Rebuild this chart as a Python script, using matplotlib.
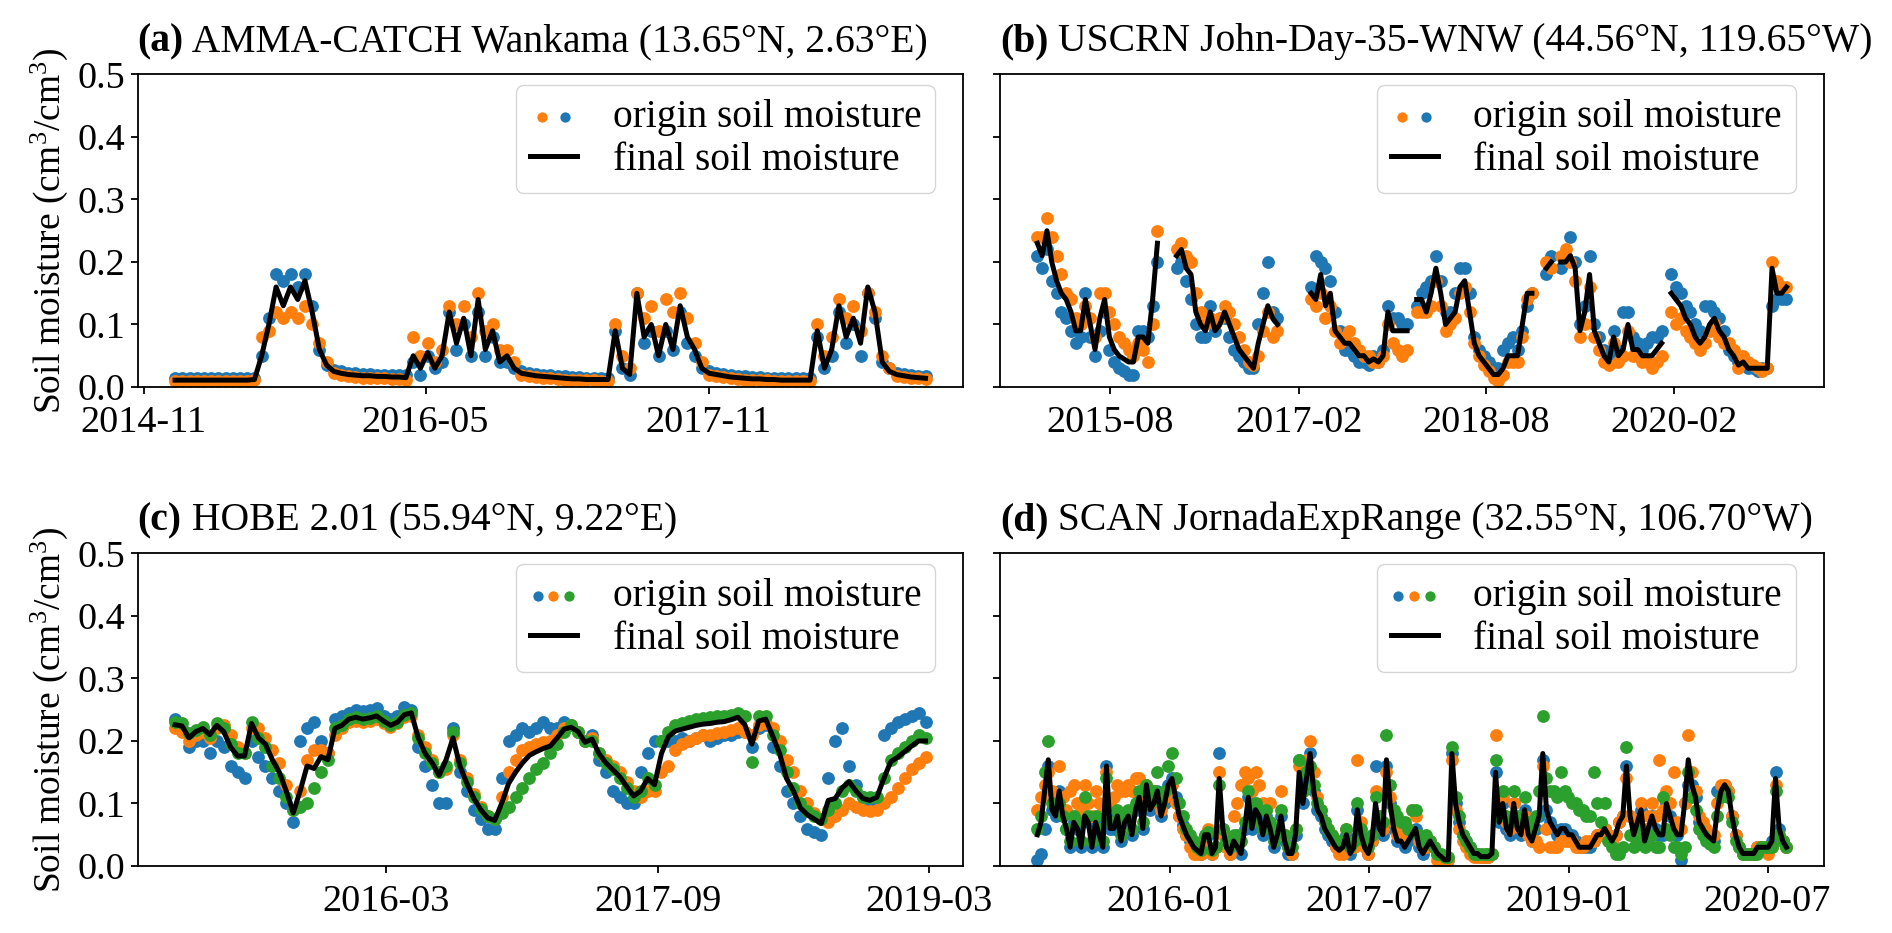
import numpy as np
import pandas as pd
import matplotlib
matplotlib.use('Agg')
import matplotlib.pyplot as plt
from matplotlib.legend_handler import HandlerTuple

nan = float('nan')

# ---------------- data (soil moisture in % volumetric, i.e. cm3/cm3 * 100) ----------------
# Panel (a): AMMA-CATCH Wankama, 14-day samples from 2015-01-01
a_start, a_step = '2015-01-01', 14
a_final = [1.1, 1.1, 1.1, 1.1, 1.1, 1.1, 1.1, 1.1, 1.1, 1.1, 1.1,
           1.2, 5, 10, 16, 13, 16, 14, 17, 12, 6, 3.5,
           2.5, 2.2, 2.0, 1.9, 1.8, 1.8, 1.7, 1.7, 1.6, 1.6,
           1.5, 5, 3, 5.5, 3, 5, 12, 7, 11, 5, 14, 6, 9, 4, 5, 3,
           2.2, 2.0, 1.8, 1.7, 1.6, 1.5, 1.4, 1.3, 1.3, 1.2, 1.2, 1.2, 1.2,
           9, 3, 2, 15, 8, 10, 5, 10, 6, 13, 8, 6, 3,
           2.2, 2.0, 1.8, 1.6, 1.5, 1.4, 1.3, 1.3, 1.2, 1.2, 1.1, 1.1, 1.1, 1.1, 1.1,
           9, 3, 6, 13, 8, 11, 7, 16, 12, 4, 2.5,
           2.0, 1.8, 1.6, 1.5, 1.4]
a_orange = [1.0, 1.0, 1.0, 1.0, 1.0, 1.0, 1.0, 1.0, 1.0, 1.0, 1.0,
            1.2, 8, 9, 12, 11, 12, 11, 13, 10, 7, 4,
            2.2, 1.9, 1.7, 1.6, 1.5, 1.5, 1.4, 1.4, 1.3, 1.3,
            1.2, 8, 5, 7, 4, 6, 13, 10, 13, 8, 15, 9, 10, 6, 6, 4,
            2.0, 1.8, 1.6, 1.5, 1.4, 1.3, 1.2, 1.2, 1.1, 1.1, 1.1, 1.0, 1.0,
            10, 5, 3, 15, 11, 13, 9, 14, 12, 15, 11, 7, 4,
            2.0, 1.8, 1.6, 1.4, 1.3, 1.2, 1.2, 1.1, 1.1, 1.0, 1.0, 1.0, 1.0, 1.0, 1.0,
            10, 5, 8, 14, 11, 13, 9, 15, 12, 5, 3,
            1.8, 1.6, 1.5, 1.4, 1.3]
a_blue = [1.4, 1.4, 1.4, 1.4, 1.4, 1.4, 1.4, 1.4, 1.4, 1.4, 1.4,
          1.4, 5, 11, 18, 17, 18, 16, 18, 13, 6, 3.5,
          2.7, 2.5, 2.3, 2.2, 2.1, 2.1, 2.0, 2.0, 1.9, 1.9,
          2.0, 4, 2, 5, 3, 4, 12, 6, 10, 5, 12, 5, 8, 4, 4, 3,
          2.5, 2.3, 2.1, 2.0, 1.9, 1.8, 1.7, 1.6, 1.6, 1.5, 1.5, 1.5, 1.5,
          9, 3, 2, 15, 7, 9, 5, 9, 6, 12, 7, 5, 3,
          2.5, 2.3, 2.1, 1.9, 1.8, 1.7, 1.6, 1.6, 1.5, 1.5, 1.4, 1.4, 1.4, 1.4, 1.4,
          8, 3, 5, 12, 7, 10, 5, 15, 11, 4, 3,
          2.3, 2.1, 1.9, 1.8, 1.7]

# Panel (b): USCRN John-Day-35-WNW, 14-day samples from 2015-01-01
b_start, b_step = '2015-01-01', 14
b_final = [23, 21, 25, 20, 17, 15, 14, 12, 9, 9, 14, 10, 6, 11, 14, 8, 6, 5, 4.5, 4, 4, 8, 8, 7, 14, 23,
           nan, nan, nan,
           21, 22, 19, 18, 12, 10, 9, 12, 9, 10, 12, 10, 8, 6, 5, 4, 3, 7, 10, 13, 11, 10,
           nan, nan, nan, nan, nan, nan,
           15, 14, 18, 13, 15, 9, 8, 7, 7, 6, 5, 5, 4, 4.5, 4, 5, 12, 9, 9, 9, 9,
           nan,
           14, 14, 12, 15, 19, 15, 10, 11, 12, 16, 17, 12, 7, 5, 4, 3, 2, 2, 3, 5, 5, 5, 10, 15, 15,
           nan, nan,
           19, 20,
           nan,
           20, 20, 21, 19, 9, 12, 18, 9, 7, 5, 4, 8, 5, 6, 10, 6, 6, 5, 5, 5, 6, 7,
           nan,
           15, 14, 13, 11, 10, 8, 7, 8, 10, 11, 9, 8, 6, 5, 3.5, 4, 3, 3, 3, 3, 3, 19, 15, 15, 16]
b_orange = [24, 24, 27, 24, 21, 18, 15, 14, 11, 10, 13, 11, 8, 15, 15, 12, 10, 8, 7, 6, 5, 7, 6, 4, 10, 25,
            nan, nan, nan,
            22, 23, 21, 20, 15, 12, 10, 11, 10, 11, 13, 12, 10, 8, 6, 4, 3.5, 5, 9, 12, 8, 9,
            nan, nan, nan, nan, nan, nan,
            14, 13, 15, 11, 13, 9, 7, 8, 9, 7, 6, 5, 5, 4, 4, 5, 10, 7, 6, 5, 6,
            nan,
            12, 12, 12, 13, 17, 13, 9, 10, 11, 15, 16, 12, 7, 5, 3.5, 2.5, 1.5, 1, 2, 4, 4, 4, 8, 14, 15,
            nan, nan,
            20, 19,
            nan,
            21, 22, 20, 17, 8, 10, 16, 8, 6, 4, 3.5, 7, 4, 5, 9, 5, 5, 4, 4, 3, 4, 5,
            nan,
            12, 10, 11, 9, 8, 7, 6, 7, 9, 10, 8, 7, 7, 6, 3, 5, 4, 3.5, 3, 2.5, 3, 20, 17, 16, 16]
b_blue = [21, 19, 22, 17, 15, 12, 11, 9, 7, 8, 15, 8, 5, 9, 12, 6, 4, 3, 2.5, 2, 2, 9, 9, 8, 13, 20,
          nan, nan, nan,
          19, 20, 17, 14, 10, 8, 8, 13, 9, 11, 11, 8, 6, 5, 4, 3, 3, 10, 15, 20, 12, 11,
          nan, nan, nan, nan, nan, nan,
          16, 21, 20, 19, 17, 12, 9, 6, 6, 5, 4, 4, 3.5, 5, 4, 6, 13, 11, 11, 10, 10,
          nan,
          13, 15, 16, 17, 21, 17, 12, 12, 15, 19, 19, 15, 8, 6, 5, 4, 3, 3, 6, 7, 8, 6, 9, 13, 15,
          nan, nan,
          18, 21,
          nan,
          19, 21, 24, 20, 10, 13, 21, 10, 8, 6, 5, 9, 6, 12, 12, 8, 7, 6, 7, 8, 8, 9,
          nan,
          18, 16, 15, 13, 12, 10, 9, 13, 13, 12, 11, 9, 6, 5, 4, 3.5, 3, 3, 2.5, 3, 3, 13, 14, 14, 14]

# Panel (c): HOBE 2.01, 14-day samples from 2015-01-01
c_start, c_step = '2015-01-01', 14
c_final = [22.6, 22.4, 20.5, 21.5, 22, 21, 22.5, 21.5, 19, 17.6,
           17.6, 22.8, 20.5, 19.5, 17, 15, 12, 8.5, 12, 16,
           15.6, 17.5, 17, 22, 22.5, 23.5, 23.8, 23.5, 23.7, 24,
           23.2, 22.5, 23, 24.2, 24.5, 20.5, 18, 16.5, 14.5, 17,
           20.5, 16, 13.2, 10.8, 9, 7.7, 7.3, 10, 13.2, 15,
           16.5, 17.7, 18.3, 18.8, 19.2, 20.5, 21.9, 22.2, 21.5, 19.8,
           20.3, 18, 16.5, 15.4, 14.3, 12.7, 11.2, 12, 14, 13,
           18, 20.7, 21.6, 21.9, 22.2, 22.5, 22.7, 22.8, 23, 23.1,
           23.4, 23.8, 22.6, 19.5, 23.2, 23.5, 20.8, 18, 14, 12,
           9.3, 8.2, 7.5, 6.8, 10.5, 10.8, 12.5, 13.5, 12, 10.8,
           10.5, 11, 14, 16.7, 17.4, 18.3, 19.2, 20, 20]
c_blue = [23.5, 22, 19, 20, 20, 18, 20, 19, 16, 15,
          14, 20, 17.5, 16, 14, 12, 10, 7, 20, 22,
          23, 20, 18, 23.5, 24, 24.5, 25, 24.8, 25, 25.2,
          24, 23.5, 24, 25.5, 25, 19, 16, 13, 10, 10,
          22, 15, 12, 9, 7.5, 6, 6, 14, 20, 21,
          22, 21.5, 22, 23, 22, 22, 23, 22.5, 21.5, 20,
          21, 17, 15, 12, 11, 10, 10, 15, 18, 20,
          20, 20, 20, 20.5, 20, 20.5, 21, 20, 20.5, 21,
          21, 21.5, 21.5, 19, 22, 22.5, 19, 16, 12, 10,
          8, 6, 5.5, 5, 14, 20, 22, 16, 13, 11,
          10, 10, 21, 22, 23, 23.5, 24, 24.5, 23]
c_orange = [22, 21.5, 20, 21, 21.5, 20.5, 22, 22.5, 21, 19,
            18, 22, 22, 20.5, 18.5, 16.5, 13, 9, 12, 17,
            18.5, 18.5, 18, 21, 22, 23, 23.2, 23, 23.2, 23.5,
            22.8, 22.2, 22.8, 23.8, 24, 21, 19, 17, 15, 15.5,
            21, 17, 14, 11.5, 9.5, 8, 7.5, 11, 15, 17,
            18.5, 19, 19.5, 19.8, 20, 21, 22, 22.5, 21.5, 20,
            20.5, 18, 17, 16, 15, 13.5, 12, 11, 12, 12,
            15, 16, 18.5, 19.5, 20, 20.5, 21, 21, 21.2, 21.5,
            21.8, 22, 21.5, 21, 22.5, 22.8, 22, 20, 17, 15,
            12, 10, 8.5, 7.5, 7, 8, 9, 10, 9.5, 9,
            8.8, 9, 10, 11, 12.5, 14, 15.5, 16.5, 17.5]
c_green = [23, 22.8, 21.2, 21.8, 22.2, 21, 22.8, 22, 19.5, 18,
           18, 23, 20.5, 19, 16, 14, 11, 9, 9.5, 10,
           12.5, 15, 17, 22, 22.5, 23.5, 23.8, 23.5, 23.7, 24,
           23.2, 22.5, 23, 24.2, 24.5, 20.5, 18, 16.5, 15, 16,
           21.5, 16.5, 13.5, 11, 9.2, 8, 7.5, 8.5, 9.5, 11,
           12.5, 14, 15.5, 16.5, 18, 19.5, 21.5, 22.5, 21.5, 20,
           20, 18, 16.5, 15.5, 14, 12.5, 11, 12, 14, 13,
           20, 21.5, 22.5, 22.8, 23.2, 23.5, 23.7, 23.8, 24, 24,
           24.2, 24.5, 24, 16.6, 24, 24, 21, 18.5, 15, 12.5,
           10, 8.8, 8, 7.5, 9, 10, 12, 13, 12, 11,
           11, 11, 14, 17, 18, 19, 20, 21, 20.5]

# Panel (d): SCAN JornadaExpRange, 10-day samples from 2015-01-01
d_start, d_step = '2015-01-01', 10
d_final = [5, 7, 12, 17, 9, 8, 12, 8, 6, 3,
           7, 6, 3, 8, 7, 3, 7, 5, 3, 16,
           6, 6, 8, 4, 7, 8, 5, 9, 11, 6,
           13, 9, 10, 12, 8, 10, 13, 14, 11, 8,
           6.5, 5, 4, 3, 2.5, 2, 5, 5, 2, 3,
           14, 6, 3, 2, 4, 3, 2, 6, 11, 6,
           9, 8, 5, 8, 6, 3, 5, 8, 4, 2,
           2, 5, 15, 10, 14, 18, 12, 9, 8, 6,
           5, 4, 3, 2.5, 3, 5, 2, 3, 9, 5,
           3, 2, 4, 10, 6, 5, 17, 10, 6, 4,
           4, 3, 4, 5, 6, 3, 2, 3, 4, 3,
           2, 1.5, 1, 1, 18, 10, 7, 5, 4, 3,
           2, 2, 1.5, 1.5, 1.5, 2, 15, 7, 10, 6,
           5, 10, 6, 5, 9, 5, 4, 6, 8, 18,
           9, 7, 6, 5, 6, 6, 5, 5, 4, 3,
           3, 3, 3, 4, 5, 5, 6, 5, 4, 5,
           7, 8, 16, 8, 5, 7, 9, 4, 6, 8,
           6, 5, 5, 10, 8, 6, 5, 5, 10, 17,
           13, 11, 7, 6, 5, 4.5, 4, 9, 12, 13,
           12, 8, 5, 3, 2, 2, 2, 2, 3, 3,
           3, 3, 4, 14, 6, 4, 3]
d_blue = [1, 2, 6, 16, 9, 8, 12, 8, 6, 3,
          7, 6, 3, 8, 7, 3, 7, 5, 3, 16,
          6, 6, 8, 4, 7, 8, 5, 9, 11, 6,
          13, 9, 10, 12, 8, 10, 13, 14, 11, 8,
          6.5, 5, 4, 3, 2.5, 2, 5, 5, 2, 3,
          18, 6, 3, 2, 4, 3, 2, 6, 11, 6,
          9, 8, 5, 8, 6, 3, 5, 8, 4, 2,
          2, 5, 17, 10, 14, 18, 12, 9, 8, 6,
          5, 4, 3, 2.5, 3, 5, 2, 3, 9, 5,
          3, 2, 4, 16, 6, 5, 16, 10, 6, 4,
          4, 3, 4, 5, 6, 3, 2, 3, 4, 3,
          2, 1.5, 1, 1, 18, 10, 7, 5, 4, 3,
          2, 2, 1.5, 1.5, 1.5, 2, 15, 7, 10, 6,
          5, 10, 6, 5, 9, 5, 4, 6, 8, 17,
          9, 7, 6, 5, 6, 6, 5, 5, 4, 3,
          3, 3, 3, 4, 5, 5, 6, 5, 4, 5,
          7, 8, 16, 8, 5, 7, 9, 4, 6, 8,
          6, 5, 5, 10, 8, 6, 5, 1, 10, 13,
          13, 11, 7, 6, 5, 4.5, 4, 12, 12, 13,
          12, 8, 5, 3, 2, 2, 2, 2, 3, 3,
          3, 3, 4, 15, 6, 4, 3]
d_orange = [9, 11, 13, 15, 12, 10, 16, 11, 9, 12,
            13, 10, 9, 13, 10, 8, 12, 10, 9, 15,
            10, 11, 13, 12, 12, 13, 12, 14, 14, 10,
            13, 10, 12, 11, 9, 11, 12, 13, 10, 8,
            6, 5, 3, 2, 2, 2, 4, 6, 2, 3,
            15, 5, 3, 2, 8, 10, 13, 15, 14, 12,
            15, 13, 10, 9, 10, 6, 5, 12, 5, 3,
            2, 6, 16, 12, 17, 20, 15, 11, 9, 7,
            6, 5, 3, 2, 2, 6, 3, 3, 17, 7,
            3, 2, 4, 12, 8, 6, 15, 11, 7, 5,
            6, 5, 6, 9, 8, 4, 3, 3, 4, 3,
            1, 1, 1, 1, 17, 9, 6, 4, 3, 2,
            1.5, 1.5, 1.5, 1.5, 1.5, 2, 21, 8, 11, 7,
            6, 10, 7, 6, 8, 5, 4, 4, 3, 16,
            6, 3, 3, 3, 4, 4, 4, 4, 3, 3,
            3, 4, 4, 4, 5, 5, 6, 5, 4, 5,
            7, 8, 14, 8, 5, 7, 10, 6, 8, 10,
            8, 17, 9, 12, 10, 15, 7, 6, 10, 21,
            15, 12, 8, 7, 6, 5, 5, 10, 13, 13,
            12, 8, 5, 3, 2, 2, 2, 2, 3, 3,
            3, 2, 3, 13, 5, 4, 3]
d_green = [6, 8, 15, 20, 10, 9, 10, 8, 6, 4,
           8, 7, 4, 11, 8, 4, 8, 6, 4, 14,
           7, 7, 9, 5, 8, 9, 6, 10, 12, 7,
           13, 11, 12, 15, 10, 12, 16, 18, 14, 10,
           8, 6, 5, 4, 3, 2.5, 5, 5.5, 2.5, 3,
           13, 6, 4, 3, 5, 5, 4, 7, 12, 7,
           10, 9, 6, 9, 7, 4, 6, 9, 5, 3,
           3, 6, 17, 12, 15, 16, 13, 10, 9, 7,
           6, 5, 4, 4, 4, 6, 3, 4, 10, 6,
           4, 3, 5, 11, 8, 7, 21, 13, 9, 8,
           7, 7, 6, 9, 9, 5, 4, 5, 4, 3,
           2, 2, 1.5, 1.5, 19, 11, 8, 5, 4, 3,
           2, 2, 2, 2, 2, 2, 17, 8, 12, 8,
           7, 12, 8, 7, 11, 7, 6, 8, 12, 24,
           14, 12, 12, 11, 15, 12, 11, 10, 10, 9,
           9, 8, 8, 15, 10, 7, 10, 4, 3, 2,
           2, 3, 19, 5, 3, 4, 6, 3, 4, 5,
           3, 3, 11, 6, 5, 3, 3, 2, 3, 15,
           11, 9, 6, 5, 4, 3.5, 3, 8, 11, 12,
           11, 7, 4, 3, 2, 2, 2, 2, 2, 3,
           3, 3, 3, 12, 5, 4, 3]

titles_bold = ['(a)', '(b)', '(c)', '(d)']
titles = [' AMMA-CATCH Wankama (13.65°N, 2.63°E)',
          ' USCRN John-Day-35-WNW (44.56°N, 119.65°W)',
          ' HOBE 2.01 (55.94°N, 9.22°E)',
          ' SCAN JornadaExpRange (32.55°N, 106.70°W)']
a_ticks = ['2014-11', '2016-05', '2017-11']
b_ticks = ['2015-08', '2017-02', '2018-08', '2020-02']
c_ticks = ['2016-03', '2017-09', '2019-03']
d_ticks = ['2016-01', '2017-07', '2019-01', '2020-07']
y_ticks = [0.0, 0.1, 0.2, 0.3, 0.4, 0.5]
legend_labels = ['origin soil moisture', 'final soil moisture']

# ---------------- style ----------------
FS = 28
plt.rcParams['font.family'] = ['Liberation Serif', 'DejaVu Serif']
plt.rcParams['mathtext.fontset'] = 'custom'
plt.rcParams['mathtext.rm'] = 'Liberation Serif'
plt.rcParams['mathtext.it'] = 'Liberation Serif:italic'
plt.rcParams['mathtext.bf'] = 'Liberation Serif:bold'
plt.rcParams['font.size'] = FS
plt.rcParams['axes.linewidth'] = 1.3

C_BLUE, C_ORANGE, C_GREEN = '#1f77b4', '#ff7f0e', '#2ca02c'
MS = 85        # data marker size
MS_LEG = 55    # legend marker size

fig = plt.figure(figsize=(18.92, 9.33), dpi=100)
positions = [[0.0727, 0.5852, 0.4363, 0.335],
             [0.5285, 0.5852, 0.4355, 0.335],
             [0.0727, 0.0718, 0.4363, 0.335],
             [0.5285, 0.0718, 0.4355, 0.335]]

panels = [
    (a_start, a_step, [(a_blue, C_BLUE), (a_orange, C_ORANGE)], [1, 0], a_final, a_ticks),
    (b_start, b_step, [(b_blue, C_BLUE), (b_orange, C_ORANGE)], [1, 0], b_final, b_ticks),
    (c_start, c_step, [(c_blue, C_BLUE), (c_orange, C_ORANGE), (c_green, C_GREEN)], [0, 1, 2], c_final, c_ticks),
    (d_start, d_step, [(d_blue, C_BLUE), (d_orange, C_ORANGE), (d_green, C_GREEN)], [0, 1, 2], d_final, d_ticks),
]

for k, (start, step, origins, leg_order, final, ticks) in enumerate(panels):
    ax = fig.add_axes(positions[k])
    dates = pd.date_range(start, periods=len(final), freq=f'{step}D')
    proxies = []
    for vals, col in origins:
        ax.scatter(dates, np.array(vals) / 100.0, s=MS, color=col, linewidths=0, zorder=2)
        proxies.append(ax.scatter([], [], s=MS_LEG, color=col, linewidths=0))
    line, = ax.plot(dates, np.array(final) / 100.0, color='black', lw=3.6, zorder=3)

    ax.set_ylim(0, 0.5)
    ax.set_yticks(y_ticks)
    if k in (0, 2):
        ax.set_yticklabels([f'{v:.1f}' for v in y_ticks])
        ax.set_ylabel('Soil moisture (cm$^3$/cm$^3$)', fontsize=27, labelpad=6)
    else:
        ax.set_yticklabels([])
    ax.set_xticks(pd.to_datetime(ticks))
    ax.set_xticklabels(ticks)
    ax.tick_params(axis='both', length=5, width=1.3, labelsize=27.5)
    ax.tick_params(axis='x', pad=8)

    leg_handles = tuple(proxies[i] for i in leg_order)
    ax.legend([leg_handles, line], legend_labels,
              handler_map={tuple: HandlerTuple(ndivide=None, pad=0.0)},
              loc='upper right', bbox_to_anchor=(0.966, 0.966), borderaxespad=0,
              fontsize=28.4, handlelength=1.2, handletextpad=0.9,
              labelspacing=0.15, borderpad=0.35)

    t1 = ax.text(0.0, 1.045, titles_bold[k], transform=ax.transAxes,
                 fontweight='bold', fontsize=28.5, va='bottom', ha='left')
    ax.annotate(titles[k], xy=(1, 0), xycoords=t1, va='bottom', ha='left', fontsize=28.5)

fig.savefig('out.png', dpi=100)
